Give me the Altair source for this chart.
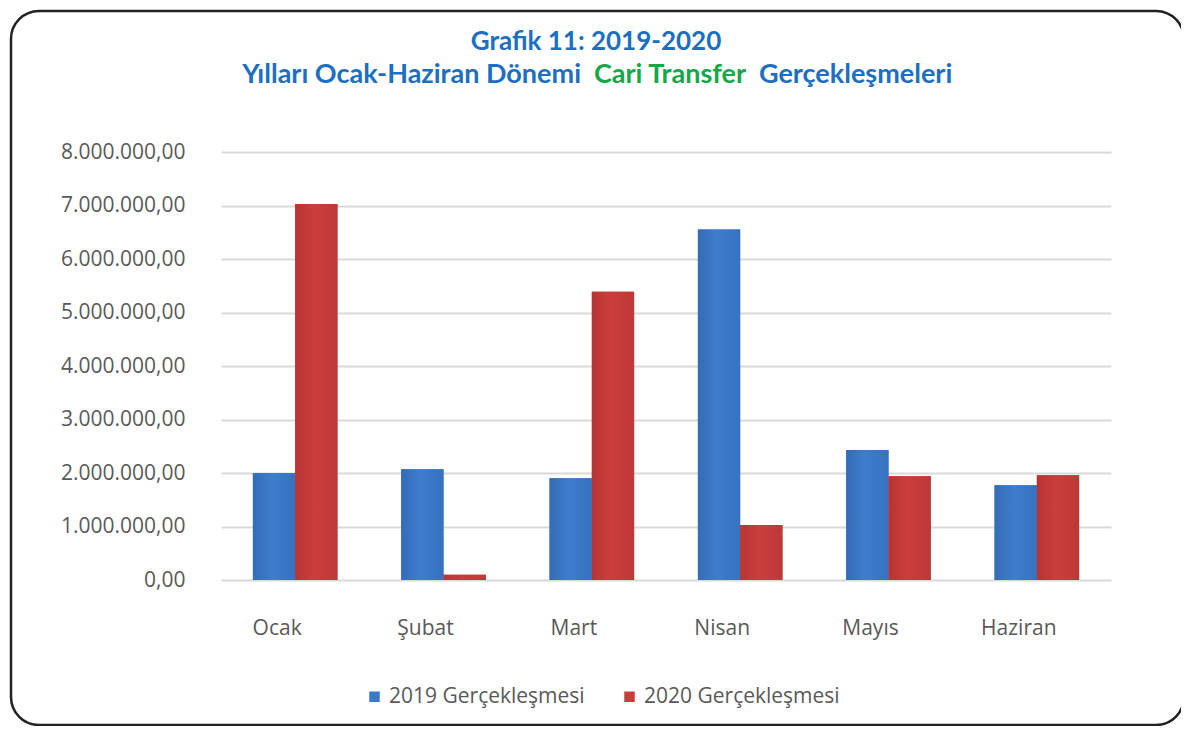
import altair as alt
import pandas as pd

months = ["Ocak", "Şubat", "Mart", "Nisan", "Mayıs", "Haziran"]
series = ["2019 Gerçekleşmesi", "2020 Gerçekleşmesi"]
v2019 = [2000000, 2070000, 1900000, 6550000, 2430000, 1770000]
v2020 = [7030000, 100000, 5390000, 1030000, 1940000, 1960000]
y_ticks = [0, 1000000, 2000000, 3000000, 4000000, 5000000, 6000000, 7000000, 8000000]
colors = ["#3B78C8", "#C83C3C"]

rows = []
for m, a, b in zip(months, v2019, v2020):
    rows.append({"Ay": m, "Seri": series[0], "Deger": a})
    rows.append({"Ay": m, "Seri": series[1], "Deger": b})
df = pd.DataFrame(rows)

FONT = "Open Sans"
TFONT = "Lato"
W, H = 890, 428
PL, PT = 213, 144

grad_blue = alt.Gradient(gradient="linear", x1=0, x2=1, y1=0, y2=0, stops=[
    alt.GradientStop(color="#336CB6", offset=0),
    alt.GradientStop(color="#3E7DCD", offset=0.45),
    alt.GradientStop(color="#3572C0", offset=1)])
grad_red = alt.Gradient(gradient="linear", x1=0, x2=1, y1=0, y2=0, stops=[
    alt.GradientStop(color="#B83434", offset=0),
    alt.GradientStop(color="#CA3E3D", offset=0.45),
    alt.GradientStop(color="#BE3838", offset=1)])

xenc = alt.X("Ay:N", sort=months, title=None,
             scale=alt.Scale(paddingInner=0.43, paddingOuter=0.215),
             axis=alt.Axis(labelAngle=0, labelPadding=37, labelOffset=-18, ticks=False, domain=False,
                           labelFont=FONT, labelFontSize=21, labelColor="#595959"))
xoff = alt.XOffset("Seri:N", sort=series, scale=alt.Scale(domain=series))
yenc = alt.Y("Deger:Q", title=None,
             scale=alt.Scale(domain=[0, 8000000], nice=False),
             axis=alt.Axis(values=y_ticks, ticks=False, domain=False, labelPadding=36,
                           labelFont=FONT, labelFontSize=21, labelColor="#595959",
                           gridColor="#D9D9D9", gridWidth=2,
                           labelExpr="datum.value == 0 ? '0,00' : format(datum.value/1000000, 'd') + '.000.000,00'"))

bars = alt.Chart(df).mark_bar(stroke=None).encode(
    x=xenc, xOffset=xoff, y=yenc,
    color=alt.Color("Seri:N", sort=series, title=None,
                    scale=alt.Scale(domain=series, range=colors),
                    legend=alt.Legend(orient="none", direction="horizontal",
                                      legendX=143, legendY=534,
                                      symbolType="square", symbolSize=110,
                                      symbolStrokeWidth=0, columnPadding=34,
                                      labelFont=FONT, labelFontSize=21,
                                      labelColor="#595959", labelLimit=300)),
)

blue_layer = alt.Chart(df).transform_filter(alt.datum.Seri == series[0]).mark_bar(
    fill=grad_blue, stroke=None).encode(x=xenc, xOffset=xoff, y=yenc)
red_layer = alt.Chart(df).transform_filter(alt.datum.Seri == series[1]).mark_bar(
    fill=grad_red, stroke=None).encode(x=xenc, xOffset=xoff, y=yenc)

one = alt.Data(values=[{"k": 1}])

border = alt.Chart(one).mark_rect(
    fill="transparent", stroke="#222222", strokeWidth=2.5, cornerRadius=28
).encode(
    x=alt.value(-210), x2=alt.value(963),
    y=alt.value(-141), y2=alt.value(573),
)

title1 = alt.Chart(one).mark_text(
    font=TFONT, fontSize=26, fontWeight="bold", color="#1C6FC1", align="center", baseline="middle"
).encode(x=alt.value(375), y=alt.value(-110), text=alt.value("Grafik 11: 2019-2020"))

t2a = alt.Chart(one).mark_text(
    font=TFONT, fontSize=27, fontWeight="bold", color="#1C6FC1", align="right", baseline="middle"
).encode(x=alt.value(360), y=alt.value(-77), text=alt.value("Yılları Ocak-Haziran Dönemi"))

t2b = alt.Chart(one).mark_text(
    font=TFONT, fontSize=27, fontWeight="bold", color="#14A84A", align="center", baseline="middle"
).encode(x=alt.value(449), y=alt.value(-77), text=alt.value("Cari Transfer"))

t2c = alt.Chart(one).mark_text(
    font=TFONT, fontSize=27, fontWeight="bold", color="#1C6FC1", align="left", baseline="middle"
).encode(x=alt.value(538), y=alt.value(-77), text=alt.value("Gerçekleşmeleri"))

chart = alt.layer(bars, blue_layer, red_layer, border, title1, t2a, t2b, t2c).properties(
    width=W, height=H,
    autosize=alt.AutoSizeParams(type="none"),
    padding={"left": PL, "top": PT, "right": 70, "bottom": 146},
    background="white",
).configure_view(stroke=None)

chart.save("out.html", embed_options={"renderer": "svg", "actions": False})
